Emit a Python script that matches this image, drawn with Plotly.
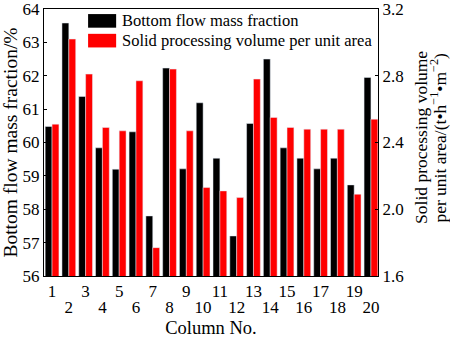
import plotly.graph_objects as go

# Column numbers and measured values
columns = list(range(1, 21))
bottom_flow_fraction = [60.48, 63.58, 61.38, 59.84, 59.20, 60.32, 57.80, 62.23, 59.21, 61.19,
                        59.53, 57.20, 60.57, 62.50, 59.84, 59.53, 59.21, 59.53, 58.73, 61.95]
solid_volume = [2.51, 3.02, 2.81, 2.49, 2.47, 2.77, 1.77, 2.84, 2.47, 2.13,
                2.11, 2.07, 2.78, 2.55, 2.49, 2.48, 2.48, 2.48, 2.09, 2.54]
# odd column numbers on the first label row, even ones on the second
odd_ticks = [c for c in columns if c % 2 == 1]
even_ticks = [c for c in columns if c % 2 == 0]

legend_names = ["Bottom flow mass fraction", "Solid processing volume per unit area"]
right_title_lines = ["Solid processing volume",
                     "per unit area/(t\u2022h<sup>\u22121</sup>\u2022m<sup>\u22122</sup>)"]
FONT = "Liberation Serif, Times New Roman, serif"
X_RANGE = [0.52, 20.42]

fig = go.Figure()
fig.add_trace(go.Bar(x=columns, y=bottom_flow_fraction, name=legend_names[0],
                     marker_color="black", width=0.41, offset=-0.41,
                     xaxis="x", yaxis="y", showlegend=False))
fig.add_trace(go.Bar(x=columns, y=solid_volume, name=legend_names[1],
                     marker_color="#ff0000", width=0.41, offset=0.0,
                     xaxis="x2", yaxis="y2", showlegend=False))

# Custom legend: swatches plus labels in the upper part of the plot
swatch_colors = ["black", "#ff0000"]
for i, (name, col) in enumerate(zip(legend_names, swatch_colors)):
    y_top = 0.981 - i * 0.074
    fig.add_shape(type="rect", xref="paper", yref="paper",
                  x0=0.132, x1=0.216, y0=y_top - 0.051, y1=y_top,
                  fillcolor=col, line=dict(width=0))
    fig.add_annotation(xref="paper", yref="paper", x=0.228, y=y_top - 0.025,
                       text=name, showarrow=False, xanchor="left", yanchor="middle",
                       font=dict(family=FONT, size=16.5, color="black"))

# Right-hand axis title, two tightly spaced rotated lines
for i, line in enumerate(right_title_lines):
    fig.add_annotation(xref="paper", yref="paper", x=1.128 + i * 0.053, y=0.52,
                       text=line, showarrow=False, textangle=-90,
                       xanchor="center", yanchor="middle",
                       font=dict(family=FONT, size=17.5, color="black"))

fig.update_layout(
    width=450, height=338,
    margin=dict(l=44, r=72, t=9, b=62),
    paper_bgcolor="white", plot_bgcolor="white",
    font=dict(family=FONT, size=17, color="black"),
    barmode="overlay",
    xaxis=dict(
        range=X_RANGE, tickmode="array", tickvals=odd_ticks,
        ticktext=[str(c) for c in odd_ticks], automargin=False,
        showline=True, linecolor="black", linewidth=1, mirror=True,
        ticks="", showgrid=False, zeroline=False, tickfont=dict(size=17),
    ),
    xaxis2=dict(
        range=X_RANGE, overlaying="x", side="bottom", anchor="y", automargin=False,
        tickmode="array", tickvals=even_ticks, ticktext=[str(c) for c in even_ticks],
        ticklabelstandoff=19,
        showline=False, ticks="", showgrid=False, zeroline=False, tickfont=dict(size=17),
        title=dict(text="Column No.", standoff=9, font=dict(size=18.5)),
    ),
    yaxis=dict(
        range=[56, 64], dtick=1, showline=True, linecolor="black", linewidth=1,
        ticks="inside", ticklen=3, tickcolor="black", showgrid=False, zeroline=False,
        ticklabeloverflow="allow", automargin=False,
        title=dict(text="Bottom flow mass fraction/%", standoff=2, font=dict(size=19.5)),
        tickfont=dict(size=17),
    ),
    yaxis2=dict(
        range=[1.6, 3.2], dtick=0.4, tickformat=".1f", overlaying="y", side="right",
        anchor="x2", automargin=False,
        showline=True, linecolor="black", linewidth=1,
        ticks="inside", ticklen=3, tickcolor="black", showgrid=False, zeroline=False,
        ticklabeloverflow="allow", tickfont=dict(size=17),
    ),
)

fig.write_html("out.html")
